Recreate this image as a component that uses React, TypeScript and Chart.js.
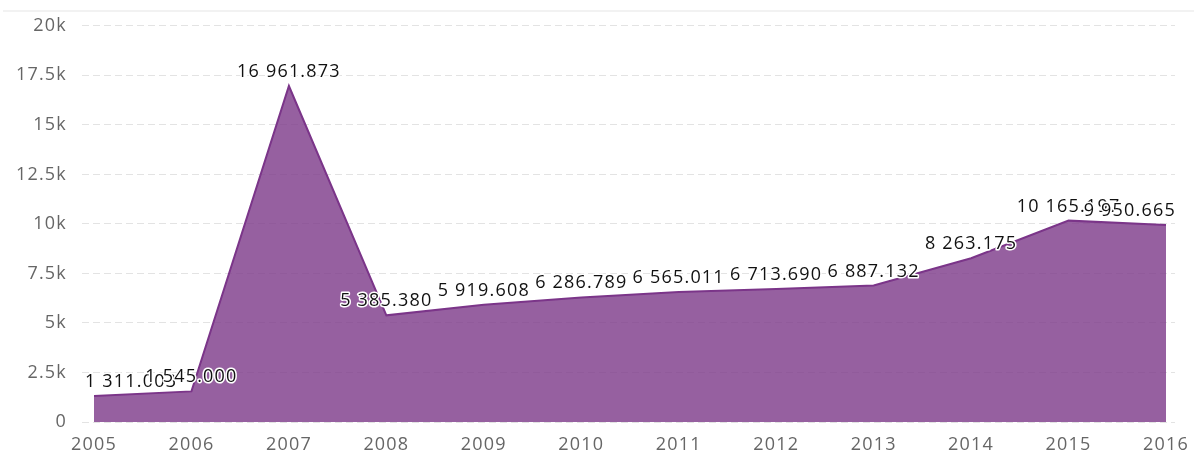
import React, { useEffect, useRef } from "react";
import { Chart, registerables } from "chart.js";

Chart.register(...registerables);

const years = [2005, 2006, 2007, 2008, 2009, 2010, 2011, 2012, 2013, 2014, 2015, 2016];
const values = [
  1311.003, 1545.0, 16961.873, 5385.38, 5919.608, 6286.789, 6565.011, 6713.69, 6887.132,
  8263.175, 10165.197, 9950.665,
];
const yMin = 0;
const yMax = 20000;
const yStep = 2500;

const FONT = '"Open Sans", "DejaVu Sans", sans-serif';
const LETTER_SPACING = "1.2px";

function formatValue(v: number): string {
  const [i, d] = v.toFixed(3).split(".");
  return i.replace(/\B(?=(\d{3})+(?!\d))/g, " ") + "." + d;
}

function formatTick(v: number): string {
  if (v === 0) return "0";
  return v / 1000 + "k";
}

const spacingPlugin = {
  id: "spacing",
  beforeUpdate(chart: any) {
    (chart.ctx as any).letterSpacing = LETTER_SPACING;
  },
  beforeDraw(chart: any) {
    const ctx = chart.ctx;
    (ctx as any).letterSpacing = LETTER_SPACING;
    ctx.save();
    ctx.strokeStyle = "#f2f2f2";
    ctx.lineWidth = 2;
    ctx.beginPath();
    ctx.moveTo(3, 11);
    ctx.lineTo(chart.width, 11);
    ctx.stroke();
    ctx.restore();
  },
};

const labelPlugin = {
  id: "dataLabels",
  afterDatasetsDraw(chart: any) {
    const ctx = chart.ctx;
    const area = chart.chartArea;
    const meta = chart.getDatasetMeta(0);
    ctx.save();
    (ctx as any).letterSpacing = LETTER_SPACING;
    ctx.font = `18px ${FONT}`;
    ctx.textAlign = "left";
    ctx.textBaseline = "alphabetic";
    ctx.lineJoin = "round";
    meta.data.forEach((pt: any, i: number) => {
      const text = formatValue(values[i]);
      const w = ctx.measureText(text).width;
      let x = pt.x - w / 2;
      x = Math.max(area.left + 3, Math.min(x, area.right - w + 1));
      const y = pt.y - 9;
      ctx.strokeStyle = "#ffffff";
      ctx.lineWidth = 3;
      ctx.strokeText(text, x, y);
      ctx.fillStyle = "#111111";
      ctx.fillText(text, x, y);
    });
    ctx.restore();
  },
};

export default function App() {
  const ref = useRef<HTMLCanvasElement | null>(null);

  useEffect(() => {
    document.body.style.margin = "0";
    if (!ref.current) return;
    const chart = new Chart(ref.current, {
      type: "line",
      data: {
        datasets: [
          {
            data: years.map((y, i) => ({ x: y, y: values[i] })),
            borderColor: "#7b3589",
            backgroundColor: "rgba(124,56,136,0.8)",
            borderWidth: 2,
            fill: "origin",
            pointRadius: 0,
            tension: 0,
          },
        ],
      },
      options: {
        responsive: false,
        animation: false,
        devicePixelRatio: 1,
        layout: { padding: { top: 23, right: 19, left: 0, bottom: 0 } },
        plugins: {
          legend: { display: false },
          tooltip: { enabled: false },
          title: { display: false },
        },
        scales: {
          x: {
            type: "linear",
            min: 2004.8769,
            max: 2016.0923,
            grid: { display: false },
            border: { display: false },
            afterBuildTicks(axis: any) {
              axis.ticks = years.map((v) => ({ value: v }));
            },
            afterFit(axis: any) {
              axis.height = 31;
            },
            ticks: {
              color: "#666666",
              font: { family: FONT, size: 18 },
              padding: 4,
              maxRotation: 0,
              autoSkip: false,
              callback: (v: any) => String(v),
            },
          },
          y: {
            min: yMin,
            max: yMax,
            border: { display: false, dash: [7, 4] },
            grid: {
              color: "#e3e3e3",
              lineWidth: 1,
              drawTicks: false,
            },
            afterFit(axis: any) {
              axis.width = 82;
            },
            ticks: {
              stepSize: yStep,
              color: "#666666",
              font: { family: FONT, size: 18 },
              padding: 15,
              callback: (v: any) => formatTick(Number(v)),
            },
          },
        },
      },
      plugins: [spacingPlugin, labelPlugin],
    } as any);
    return () => chart.destroy();
  }, []);

  return (
    <div style={{ position: "absolute", left: 0, top: 0 }}>
      <canvas ref={ref} width={1194} height={453} style={{ display: "block", width: 1194, height: 453 }} />
    </div>
  );
}
